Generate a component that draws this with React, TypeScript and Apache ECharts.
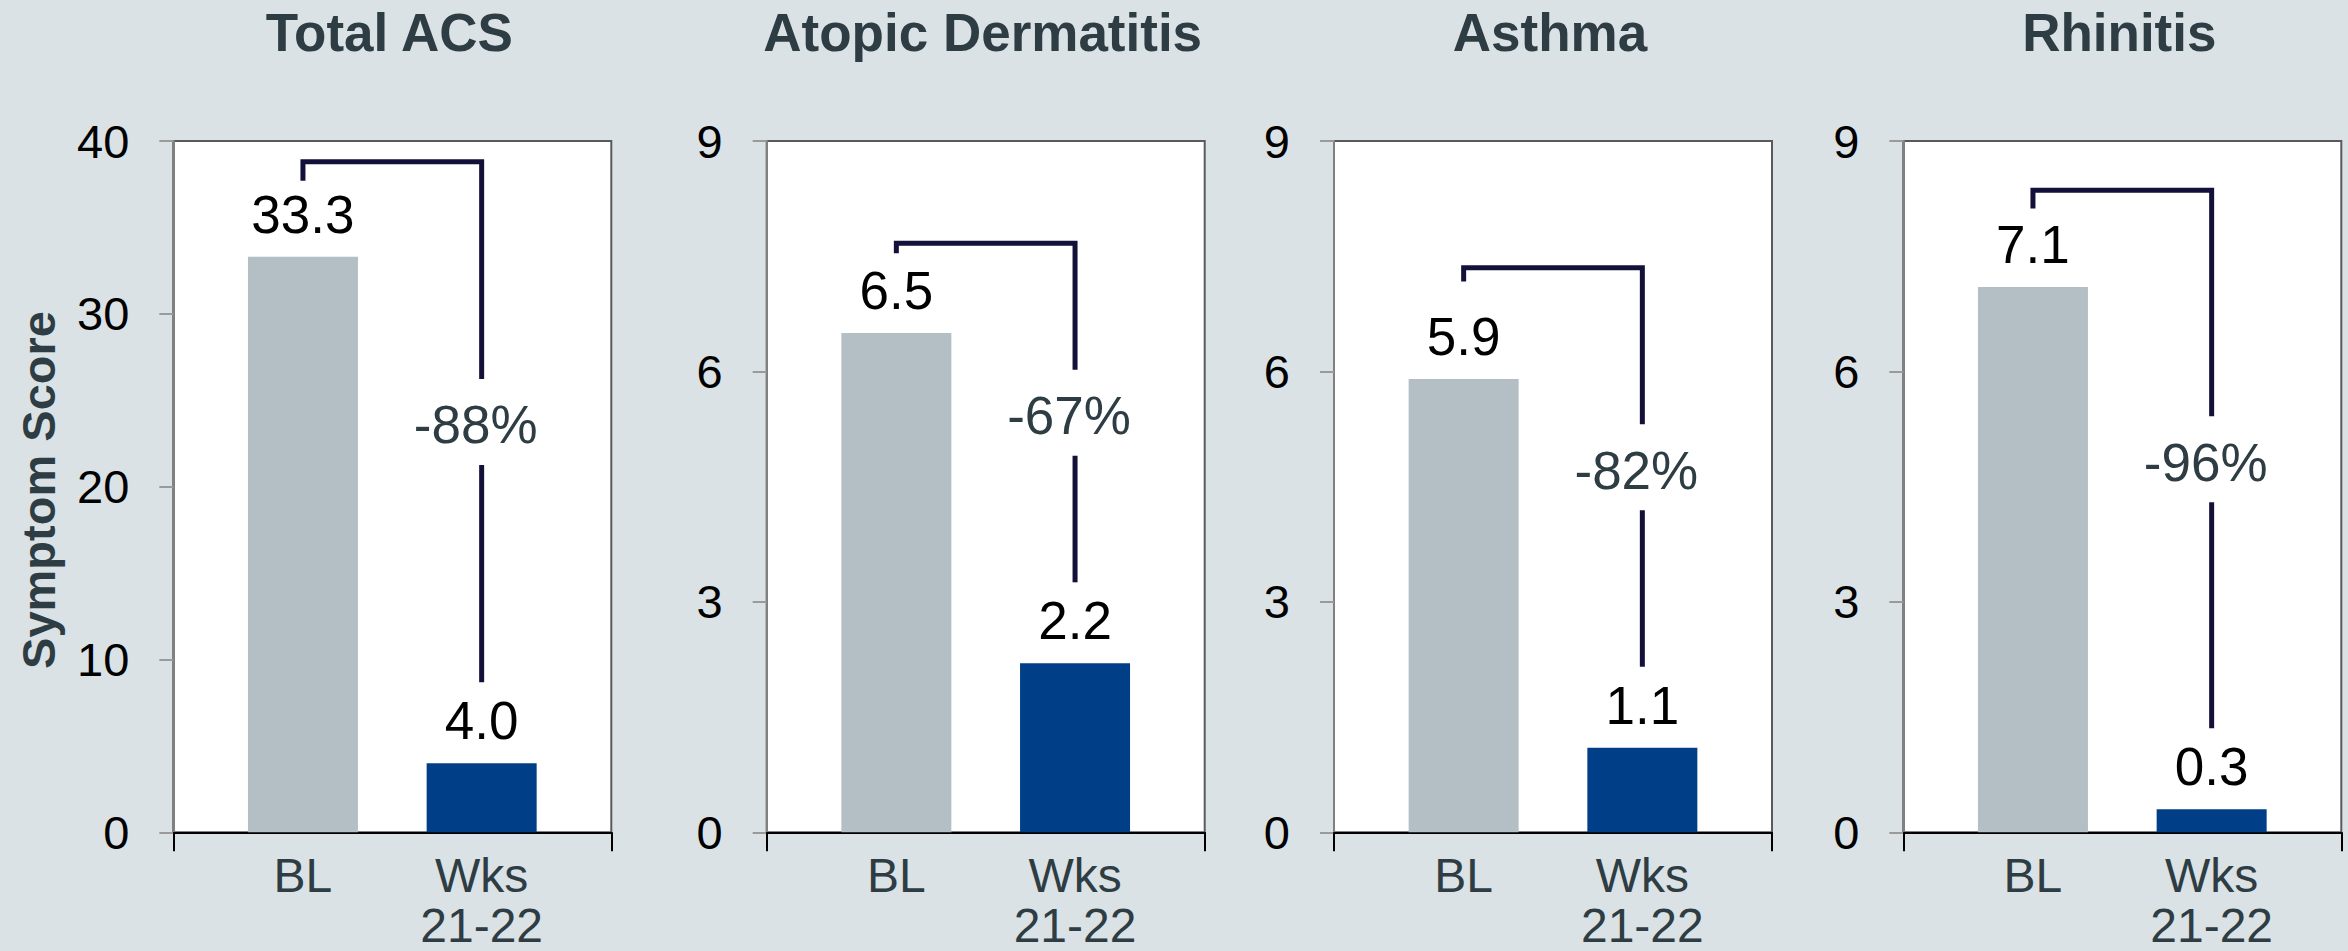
import React, { useEffect, useRef } from "react";
import * as echarts from "echarts";

// ---- data ----
const panelTitles = ["Total ACS", "Atopic Dermatitis", "Asthma", "Rhinitis"];
const categories = ["BL", "Wks\n21-22"];
const baselineValues = [33.3, 6.5, 5.9, 7.1];
const week2122Values = [4.0, 2.2, 1.1, 0.3];
const changeLabels = ["-88%", "-67%", "-82%", "-96%"];
const axisMax = [40, 9, 9, 9];
const axisInterval = [10, 3, 3, 3];
const bracketTop = [38.8, 7.67, 7.35, 8.36];
const bracketLeftEnd = [37.7, 7.54, 7.17, 8.12];
const yAxisTitle = "Symptom Score";

// ---- styles / layout ----
const FONT = "'Liberation Sans', Arial, Helvetica, sans-serif";
const BG = "#dae2e5";
const BL_COLOR = "#b3bfc5";
const WK_COLOR = "#003f87";
const BRACKET = "#13113a";
const DARK_TEXT = "#2e3c43";
const panelLeft = [173.3, 766.7, 1334, 1903.3];
const PANEL_W = 438;
const PLOT_TOP = 141;
const PLOT_H = 691.3;
const BAR_INSET = 40.3;

export default function App() {
  const ref = useRef<HTMLDivElement>(null);

  useEffect(() => {
    if (!ref.current) return;
    const chart = echarts.init(ref.current, undefined, { renderer: "svg" });

    const grid: any[] = [];
    const xAxis: any[] = [];
    const yAxis: any[] = [];
    const series: any[] = [];
    const graphic: any[] = [];

    panelTitles.forEach((title, i) => {
      const L = panelLeft[i];
      // frame grid
      grid.push({
        left: L,
        top: PLOT_TOP,
        width: PANEL_W,
        height: PLOT_H,
        show: true,
        backgroundColor: "#ffffff",
        borderColor: "#5a5a5a",
        borderWidth: 2,
        containLabel: false,
        outerBoundsMode: "none",
      });
      // bar grid
      grid.push({
        left: L + BAR_INSET,
        top: PLOT_TOP,
        width: PANEL_W - 2 * BAR_INSET,
        height: PLOT_H,
        containLabel: false,
        outerBoundsMode: "none",
      });
      xAxis.push({
        gridIndex: 2 * i,
        type: "value",
        min: 0,
        max: 1,
        interval: 1,
        axisLine: { show: true, lineStyle: { color: "#000", width: 2 } },
        axisTick: { show: true, length: 19, lineStyle: { color: "#000", width: 2 } },
        axisLabel: { show: false },
        splitLine: { show: false },
      });
      xAxis.push({
        gridIndex: 2 * i + 1,
        type: "category",
        data: categories,
        axisLine: { show: false },
        axisTick: { show: false },
        axisLabel: {
          fontSize: 48,
          lineHeight: 50,
          color: DARK_TEXT,
          fontFamily: FONT,
          margin: 18,
        },
      });
      yAxis.push({
        gridIndex: 2 * i,
        type: "value",
        min: 0,
        max: axisMax[i],
        interval: axisInterval[i],
        axisLine: { show: true, lineStyle: { color: "#808080", width: 2 } },
        axisTick: { show: true, length: 14, lineStyle: { color: "#9a9a9a", width: 2 } },
        axisLabel: { fontSize: 47, color: "#000", fontFamily: FONT, margin: 44 },
        splitLine: { show: false },
      });
      yAxis.push({
        gridIndex: 2 * i + 1,
        type: "value",
        min: 0,
        max: axisMax[i],
        interval: axisInterval[i],
        show: false,
      });

      series.push({
        type: "bar",
        xAxisIndex: 2 * i + 1,
        yAxisIndex: 2 * i + 1,
        barWidth: 110,
        data: [
          { value: baselineValues[i], itemStyle: { color: BL_COLOR } },
          { value: week2122Values[i], itemStyle: { color: WK_COLOR } },
        ],
        label: {
          show: true,
          position: "top",
          distance: 16,
          fontSize: 53,
          lineHeight: 53,
          color: "#000",
          fontFamily: FONT,
          formatter: (p: any) => Number(p.value).toFixed(1),
        },
      });

      const pct = changeLabels[i];
      series.push({
        type: "custom",
        xAxisIndex: 2 * i + 1,
        yAxisIndex: 2 * i + 1,
        encode: { x: 0, y: 1 },
        data: [[0, bracketTop[i], bracketLeftEnd[i], baselineValues[i], week2122Values[i]]],
        renderItem: (params: any, api: any) => {
          const top = api.value(1);
          const leftEnd = api.value(2);
          const wk = api.value(4);
          const pTop = api.coord([0, top]);
          const pLeftEnd = api.coord([0, leftEnd]);
          const pRight = api.coord([1, top]);
          const pWk = api.coord([1, wk]);
          const xB = pTop[0];
          const yTop = pTop[1];
          const xW = pRight[0];
          const yRightEnd = pWk[1] - 81;
          const mid = (yTop + yRightEnd) / 2;
          return {
            type: "group",
            children: [
              {
                type: "polyline",
                shape: {
                  points: [
                    [xB, pLeftEnd[1]],
                    [xB, yTop],
                    [xW, yTop],
                    [xW, mid - 43],
                  ],
                },
                style: { stroke: BRACKET, lineWidth: 5, fill: null, lineJoin: "miter" },
              },
              {
                type: "line",
                shape: { x1: xW, y1: mid + 43, x2: xW, y2: yRightEnd },
                style: { stroke: BRACKET, lineWidth: 5 },
              },
              {
                type: "text",
                x: xW - 6,
                y: mid + 3,
                style: {
                  text: pct,
                  fill: DARK_TEXT,
                  fontSize: 53,
                  fontFamily: FONT,
                  align: "center",
                  verticalAlign: "middle",
                  textAlign: "center",
                  textVerticalAlign: "middle",
                },
              },
            ],
          };
        },
      });

      graphic.push({
        type: "text",
        x: L + PANEL_W / 2 - 3,
        y: 32,
        style: {
          text: title,
          fill: DARK_TEXT,
          font: `bold 53px ${FONT}`,
          textAlign: "center",
          textVerticalAlign: "middle",
        },
      });
    });

    graphic.push({
      type: "text",
      x: 38,
      y: 490,
      rotation: Math.PI / 2,
      style: {
        text: yAxisTitle,
        fill: DARK_TEXT,
        font: `bold 47px ${FONT}`,
        textAlign: "center",
        textVerticalAlign: "middle",
      },
    });

    chart.setOption({
      animation: false,
      backgroundColor: BG,
      grid,
      xAxis,
      yAxis,
      series,
      graphic,
    });

    return () => chart.dispose();
  }, []);

  return (
    <div
      ref={ref}
      style={{ position: "absolute", left: 0, top: 0, width: 2348, height: 951 }}
    />
  );
}
